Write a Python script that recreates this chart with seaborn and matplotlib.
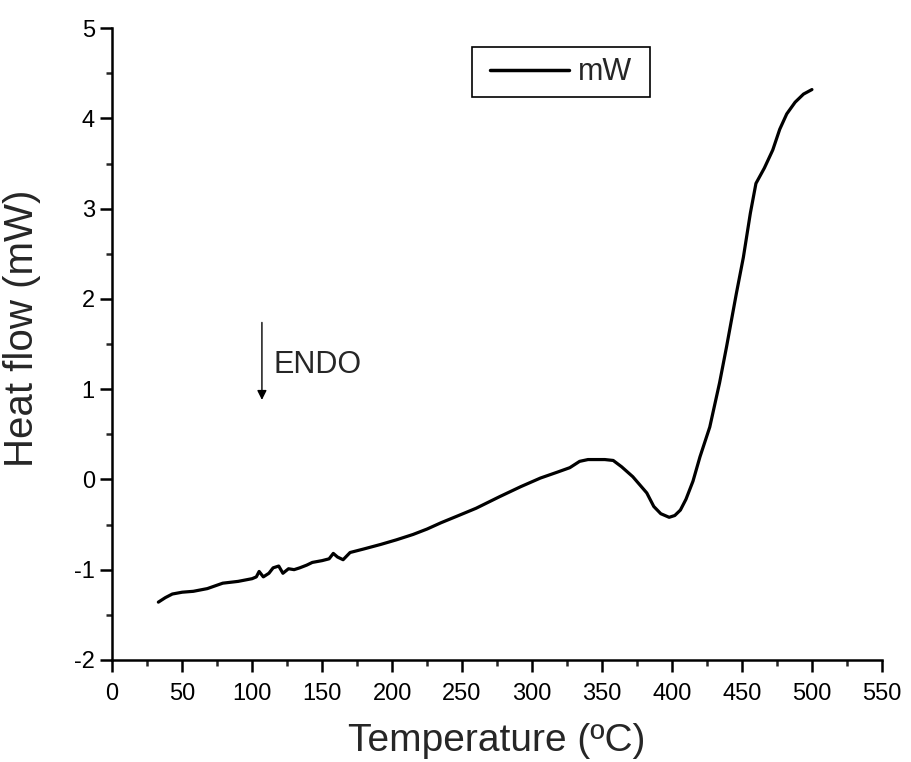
import numpy as np
import pandas as pd
import matplotlib
matplotlib.use("Agg")
import matplotlib.pyplot as plt
from matplotlib.ticker import MultipleLocator
from matplotlib.patches import Rectangle
import seaborn as sns

temperatura = [33, 38, 43, 50, 58, 68, 79, 90, 100, 103, 105, 108, 112, 115, 119, 122, 126,
               130, 134, 139, 143, 150, 155, 158, 161, 165, 170, 180, 192, 203, 215, 225,
               235, 246, 260, 277, 292, 306, 318, 327, 334, 340, 346, 352, 358, 364, 372,
               377, 382, 387, 392, 398, 402, 406, 410, 415, 420, 427, 434, 439, 446, 451,
               456, 460, 466, 472, 477, 482, 488, 494, 500]
flujo = [-1.36, -1.31, -1.27, -1.25, -1.24, -1.21, -1.15, -1.13, -1.10, -1.08, -1.02, -1.08,
         -1.04, -0.98, -0.96, -1.04, -0.99, -1.00, -0.98, -0.95, -0.92, -0.90, -0.88, -0.82,
         -0.86, -0.89, -0.81, -0.77, -0.72, -0.67, -0.61, -0.55, -0.48, -0.41, -0.32, -0.19,
         -0.08, 0.015, 0.08, 0.13, 0.20, 0.22, 0.22, 0.22, 0.21, 0.14, 0.03, -0.06, -0.15,
         -0.30, -0.38, -0.42, -0.40, -0.34, -0.22, -0.02, 0.25, 0.58, 1.07, 1.47, 2.06, 2.46,
         2.95, 3.28, 3.45, 3.65, 3.88, 4.05, 4.18, 4.27, 4.32]

df = pd.DataFrame({"Temperature": temperatura, "mW": flujo})

sns.set_style("ticks")
plt.rcParams['font.family'] = ['Liberation Sans', 'DejaVu Sans']
plt.rcParams['axes.unicode_minus'] = False

fig = plt.figure(figsize=(9.12, 7.62), dpi=100)
ax = fig.add_axes([0.123, 0.134, 0.844, 0.829])

sns.lineplot(data=df, x="Temperature", y="mW", ax=ax, color="black",
             linewidth=2.3, sort=False, estimator=None, label="mW")

ax.set_xlim(0, 550)
ax.set_ylim(-2, 5)
ax.xaxis.set_major_locator(MultipleLocator(50))
ax.xaxis.set_minor_locator(MultipleLocator(25))
ax.yaxis.set_major_locator(MultipleLocator(1))
ax.yaxis.set_minor_locator(MultipleLocator(0.5))
ax.tick_params(which="major", direction="out", length=8.5, width=1.8, labelsize=17,
               colors="black", pad=4)
ax.tick_params(axis="x", which="major", pad=8)
ax.tick_params(which="minor", direction="out", length=4.5, width=1.8)

for lado in ["top", "right"]:
    ax.spines[lado].set_visible(False)
for lado in ["left", "bottom"]:
    ax.spines[lado].set_linewidth(1.8)
    ax.spines[lado].set_color("black")

ax.set_xlabel("Temperature (ºC)", fontsize=28)
ax.set_ylabel("Heat flow (mW)", fontsize=29)
ax.xaxis.set_label_coords(0.5, -0.10)
ax.yaxis.set_label_coords(-0.092, 0.525)

# Flecha ENDO
ax.annotate("", xy=(107, 0.85), xytext=(107, 1.77),
            arrowprops=dict(arrowstyle="-|>", color="black", lw=1.0, mutation_scale=14))
ax.text(115, 1.27, "ENDO", fontsize=22, va="center", ha="left")

# Leyenda con marco propio
ax.add_patch(Rectangle((0.4675, 0.891), 0.2315, 0.079, transform=ax.transAxes,
                       fill=False, edgecolor="black", linewidth=1.2, zorder=5))
leg = ax.legend(loc="center", bbox_to_anchor=(0.583, 0.930), fontsize=22,
                handlelength=2.6, frameon=False, borderpad=0.2,
                handletextpad=0.3, borderaxespad=0)
leg.get_lines()[0].set_linewidth(2.5)

fig.savefig("out.png", dpi=100)
